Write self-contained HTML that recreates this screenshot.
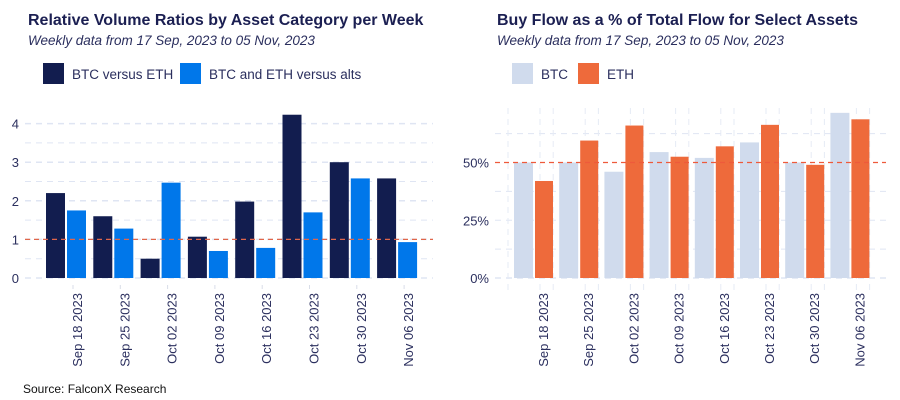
<!DOCTYPE html>
<html><head><meta charset="utf-8"><style>
body{margin:0;background:#fff;}
svg{display:block;font-family:"Liberation Sans",sans-serif;}
</style></head><body>
<svg id="c" width="900" height="400">
<text x="28" y="25" font-size="16" font-weight="bold" fill="#1b1f52">Relative Volume Ratios by Asset Category per Week</text>
<text x="28" y="45" font-size="13.5" font-style="italic" fill="#2b2f5e">Weekly data from 17 Sep, 2023 to 05 Nov, 2023</text>
<rect x="43" y="63" width="21" height="21" fill="#121d4f"/>
<text x="72" y="79" font-size="13.5" fill="#2b2f5e">BTC versus ETH</text>
<rect x="180" y="63" width="21" height="21" fill="#0077ea"/>
<text x="209" y="79" font-size="13.5" fill="#2b2f5e">BTC and ETH versus alts</text>
<text x="497" y="25" font-size="16" font-weight="bold" fill="#1b1f52">Buy Flow as a % of Total Flow for Select Assets</text>
<text x="497" y="45" font-size="13.5" font-style="italic" fill="#2b2f5e">Weekly data from 17 Sep, 2023 to 05 Nov, 2023</text>
<rect x="512" y="63" width="21" height="21" fill="#d0dbed"/>
<text x="541" y="79" font-size="13.5" fill="#2b2f5e">BTC</text>
<rect x="578" y="63" width="21" height="21" fill="#ee6a3b"/>
<text x="607" y="79" font-size="13.5" fill="#2b2f5e">ETH</text>
<text x="23" y="393" font-size="12" fill="#111">Source: FalconX Research</text>
<g id="L"></g><g id="R"></g>
</svg>
<script>
const weeks = ["Sep 18 2023","Sep 25 2023","Oct 02 2023","Oct 09 2023","Oct 16 2023","Oct 23 2023","Oct 30 2023","Nov 06 2023"];
const btcVsEth = [2.2,1.6,0.5,1.07,1.98,4.23,3.0,2.58];
const majorsVsAlts = [1.75,1.28,2.47,0.7,0.78,1.7,2.58,0.93];
const leftTicks = [0,1,2,3,4];
const btcBuy = [50,50,46,54.5,52,58.7,50,71.5];
const ethBuy = [42,59.5,66,52.5,57,66.3,49,68.7];
const rightTicks = [0,25,50];
const NS="http://www.w3.org/2000/svg";
function mk(p,t,a){const e=document.createElementNS(NS,t);for(const k in a)e.setAttribute(k,a[k]);p.appendChild(e);return e;}
// left
const L=document.getElementById('L');
const ly=v=>278-v*38.6, lx=i=>46+i*47.3;
for(let v=0.5;v<=4.3;v+=0.5){const g=mk(L,'line',{x1:25,x2:433,y1:ly(v),y2:ly(v),stroke:'#dfe5f3','stroke-width':Number.isInteger(v)?1.5:1,'stroke-dasharray':'6 5'});

}
mk(L,'line',{x1:25,x2:433,y1:278,y2:278,stroke:'#dfe5f3','stroke-width':1.5,'stroke-dasharray':'6 5'});
leftTicks.forEach(v=>{const t=mk(L,'text',{x:19,y:ly(v)+5,'font-size':13,fill:'#2b2f5e','text-anchor':'end'});t.textContent=v;

});
weeks.forEach((w,i)=>{
 const b1=mk(L,'rect',{x:lx(i),y:ly(btcVsEth[i]),width:19,height:btcVsEth[i]*38.6,fill:'#121d4f'});
 
 
 const b2=mk(L,'rect',{x:lx(i)+21,y:ly(majorsVsAlts[i]),width:19,height:majorsVsAlts[i]*38.6,fill:'#0077ea'});
 
 
 const tx=lx(i)+27;
 mk(L,'line',{x1:tx,x2:tx,y1:285,y2:289,stroke:'#d8dde8'});
 const t=mk(L,'text',{x:0,y:0,'font-size':13,fill:'#2b2f5e','text-anchor':'end',transform:`translate(${tx+9},293) rotate(-90)`});t.textContent=w;
 
 
});
mk(L,'line',{x1:25,x2:433,y1:ly(1),y2:ly(1),stroke:'#e0664a','stroke-width':1.2,'stroke-dasharray':'5 4'});
// right
const R=document.getElementById('R');
const ry=v=>278-v*2.31, rx=i=>514+i*45.2;
[12.5,25,37.5,62.5].forEach(v=>{const g=mk(R,'line',{x1:495,x2:886,y1:ry(v),y2:ry(v),stroke:'#dfe5f3','stroke-dasharray':'6 5'});

});
mk(R,'line',{x1:495,x2:886,y1:278,y2:278,stroke:'#dfe5f3','stroke-width':1.5,'stroke-dasharray':'6 5'});
for(let i=0;i<=8;i++){const x=rx(i)-6;mk(R,'line',{x1:x,x2:x,y1:108,y2:290,stroke:'#e6ebf5','stroke-dasharray':'6 5'});
 if(i<8){const x2=rx(i)+26;mk(R,'line',{x1:x2,x2:x2,y1:108,y2:290,stroke:'#e6ebf5','stroke-dasharray':'6 5'});}}
weeks.forEach((w,i)=>{
 const b1=mk(R,'rect',{x:rx(i),y:ry(btcBuy[i]),width:19,height:btcBuy[i]*2.31,fill:'#d0dbed'});
 
 
 const b2=mk(R,'rect',{x:rx(i)+21,y:ry(ethBuy[i]),width:18,height:ethBuy[i]*2.31,fill:'#ee6a3b'});
 
 
 const tx=rx(i)+26;
 const t=mk(R,'text',{x:0,y:0,'font-size':13,fill:'#2b2f5e','text-anchor':'end',transform:`translate(${tx+8},293) rotate(-90)`});t.textContent=w;
 
 
});
rightTicks.forEach(v=>{const t=mk(R,'text',{x:489,y:ry(v)+5,'font-size':13,fill:'#2b2f5e','text-anchor':'end'});t.textContent=v+'%';

});
mk(R,'line',{x1:495,x2:886,y1:ry(50),y2:ry(50),stroke:'#ee5a3b','stroke-width':1.2,'stroke-dasharray':'5 4'});
</script>
</body></html>
